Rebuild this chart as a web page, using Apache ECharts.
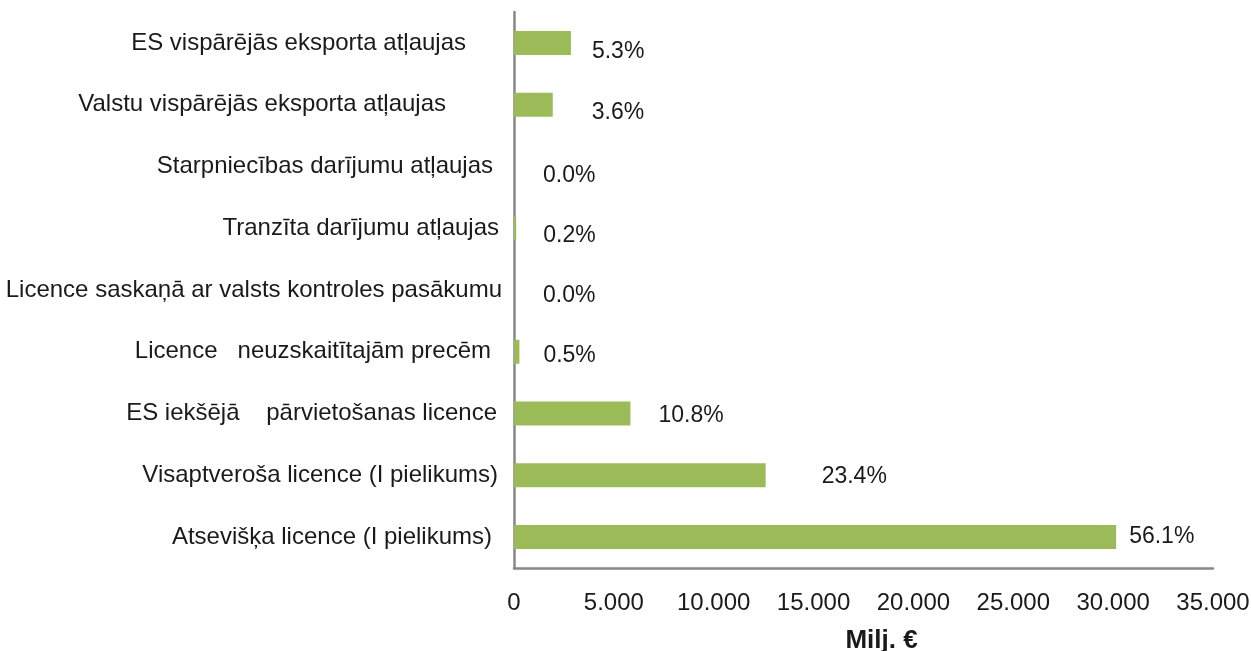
<!DOCTYPE html>
<html>
<head>
<meta charset="utf-8">
<script src="https://cdn.jsdelivr.net/npm/echarts@6/dist/echarts.min.js"></script>
<style>
    html, body { margin: 0; padding: 0; background: #fff; overflow: hidden; }
    #echart { width: 1251px; height: 651px; }
</style>
</head>
<body>
<div id="echart"></div>
<script>
// kategorijas (no augšas uz leju)
var categories = [
    'ES vispārējās eksporta atļaujas',
    'Valstu vispārējās eksporta atļaujas',
    'Starpniecības darījumu atļaujas',
    'Tranzīta darījumu atļaujas',
    'Licence saskaņā ar valsts kontroles pasākumu',
    'Licence   neuzskaitītajām precēm',
    'ES iekšējā    pārvietošanas licence',
    'Visaptveroša licence (I pielikums)',
    'Atsevišķa licence (I pielikums)'
];
// vērtība, milj. €
var values = [2850, 1940, 0, 110, 0, 270, 5830, 12600, 30150];
// īpatsvars, %
var shares = [5.3, 3.6, 0.0, 0.2, 0.0, 0.5, 10.8, 23.4, 56.1];
var xTicks = [0, 5000, 10000, 15000, 20000, 25000, 30000, 35000];

// izkārtojums (nav dati)
var catPad = [36, 56, 9, 3, 0, 11, 5, 4, 10];
var labelOffsets = [[21, 9], [39, 8], [29, 9], [27, 7], [29, 6], [24, 4], [28, 2], [56, 1], [13, 0]];

var myChart = echarts.init(document.getElementById('echart'));

var rich = {};
for (var i = 0; i < categories.length; i++) {
    rich['p' + i] = {
        fontFamily: 'Liberation Sans',
        fontSize: 24,
        color: '#1a1a1a',
        padding: [0, catPad[i], 0, 0]
    };
}

var seriesData = [];
for (i = 0; i < values.length; i++) {
    seriesData.push({
        value: values[i],
        label: { offset: labelOffsets[i] }
    });
}

function fmtNum(v) {
    return String(v).replace(/\B(?=(\d{3})+(?!\d))/g, '.');
}

var option = {
    animation: false,
    textStyle: { fontFamily: 'Liberation Sans' },
    grid: {
        left: 514,
        right: 38,
        top: 12,
        bottom: 83,
        containLabel: false,
        outerBoundsMode: 'none'
    },
    xAxis: {
        type: 'value',
        min: xTicks[0],
        max: xTicks[xTicks.length - 1],
        interval: 5000,
        name: 'Milj. €',
        nameLocation: 'middle',
        nameGap: 60,
        nameTextStyle: {
            fontSize: 26,
            fontWeight: 'bold',
            color: '#1a1a1a',
            fontFamily: 'Liberation Sans',
            padding: [0, 0, 0, 36]
        },
        axisLine: { show: true, lineStyle: { color: '#878787', width: 2.5 } },
        axisTick: { show: false },
        splitLine: { show: false },
        axisLabel: {
            margin: 23,
            fontSize: 24,
            color: '#1a1a1a',
            fontFamily: 'Liberation Sans',
            formatter: fmtNum
        }
    },
    yAxis: {
        type: 'category',
        inverse: true,
        data: categories,
        axisLine: { show: true, lineStyle: { color: '#878787', width: 2.5 } },
        axisTick: { show: false },
        axisLabel: {
            margin: 12,
            interval: 0,
            formatter: function (val, idx) {
                return '{p' + idx + '|' + val + '}';
            },
            rich: rich
        }
    },
    series: [{
        name: 'Milj. €',
        type: 'bar',
        barWidth: 24,
        itemStyle: { color: '#9bbb59' },
        label: {
            show: true,
            position: 'right',
            distance: 0,
            fontSize: 23,
            color: '#1a1a1a',
            fontFamily: 'Liberation Sans',
            formatter: function (p) {
                return shares[p.dataIndex].toFixed(1) + '%';
            }
        },
        data: seriesData
    }]
};

myChart.setOption(option);
window.onresize = myChart.resize;
</script>
</body>
</html>
